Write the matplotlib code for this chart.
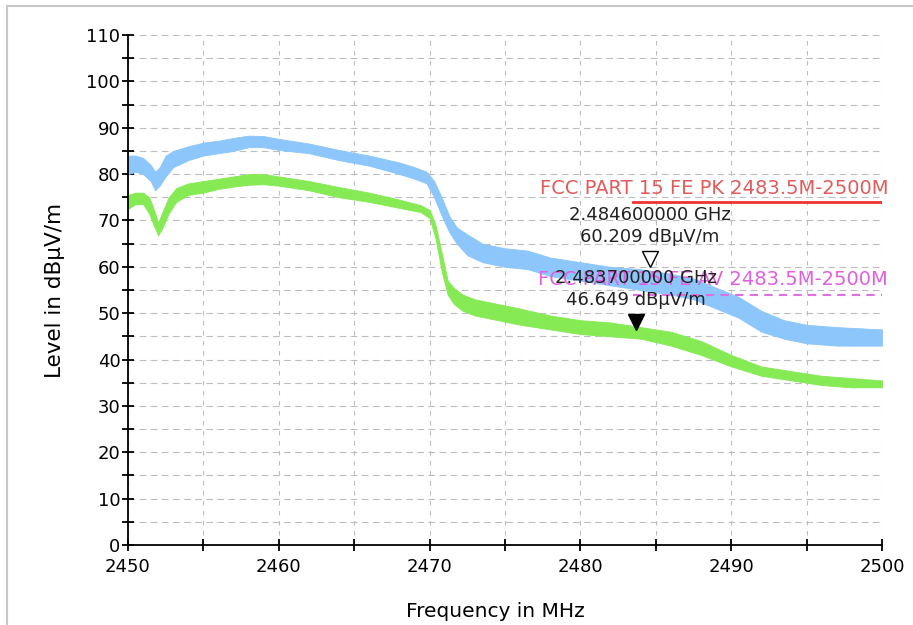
import numpy as np
from matplotlib import pyplot as plt
from matplotlib.transforms import offset_copy
from matplotlib.lines import Line2D

'''Trace data read off the spectrum plot (band = min/max of the noisy trace)'''
pk_freq = [2450, 2450.5, 2451, 2451.5, 2451.8, 2452.1, 2452.5, 2453, 2454, 2455,
           2456, 2457, 2458, 2459, 2460, 2462, 2464, 2466, 2468, 2469, 2469.8,
           2470.3, 2470.8, 2471.3, 2471.8, 2472.5, 2473.5, 2475, 2476.5, 2478,
           2480, 2482, 2484, 2486, 2487.5, 2489, 2490.5, 2492, 2493.5, 2495,
           2497, 2500]
pk_low = [80, 80.5, 80, 78.5, 76.5, 77.5, 79.5, 81.5, 83, 84,
          84.5, 85, 85.8, 85.8, 85.2, 84.5, 83, 81.8, 80, 79, 78,
          75, 71, 67.5, 65, 62.5, 61, 60, 59.5, 58,
          57, 56, 55, 54, 53, 51, 49, 46, 44.5, 43.5,
          43, 43]
pk_high = [84, 84, 83.5, 82, 80.5, 81.5, 84, 85, 86, 86.8,
           87.2, 87.8, 88.3, 88.2, 87.6, 86.6, 85.2, 84, 82.5, 81.5, 80.5,
           78.5, 75, 71, 68.5, 67, 65, 64, 63.5, 62,
           61, 60, 59.5, 58.5, 57.5, 55.5, 53.5, 50.5, 48.5, 47.5,
           47, 46.5]

av_freq = [2450, 2450.5, 2451, 2451.4, 2451.7, 2452, 2452.3, 2452.7, 2453.2, 2454,
           2455, 2456, 2457, 2458, 2459, 2460, 2462, 2464, 2466, 2468, 2469.4,
           2470, 2470.4, 2470.8, 2471.2, 2471.6, 2472.2, 2473, 2474.5, 2476,
           2478, 2480, 2482, 2484, 2486, 2488, 2490, 2492, 2494, 2496, 2498, 2500]
av_low = [72.5, 73.5, 73.5, 71.5, 69, 66.8, 68.5, 71.5, 74, 75.5,
          76, 76.8, 77.3, 77.7, 77.8, 77.5, 76.5, 75, 74, 72.7, 71.8,
          70.5, 66, 59, 54, 52, 50.5, 49.5, 48.5, 47.5,
          46.5, 45.5, 45, 44.5, 43, 41, 38.5, 36.5, 35.5, 34.5, 34, 34]
av_high = [75.5, 76, 76, 75, 72.5, 69.5, 72, 75, 77, 78,
           78.5, 79, 79.5, 80, 80, 79.5, 78.5, 77.2, 76, 74.5, 73.3,
           72.3, 69, 63, 57, 55.5, 54, 53, 52, 51,
           49.5, 48.5, 48, 47, 46, 44, 41, 38.5, 37.5, 36.5, 36, 35.5]

'''Limit lines'''
limit_freq = [2483.5, 2500]
pk_limit = [74, 74]
av_limit = [54, 54]
pk_limit_name = 'FCC PART 15 FE PK 2483.5M-2500M'
av_limit_name = 'FCC PART 15 FE AV 2483.5M-2500M'

'''Markers'''
mk1_freq, mk1_level = 2484.6, 60.209   # open marker, peak trace
mk2_freq, mk2_level = 2483.7, 46.649   # filled marker, average trace

fig = plt.figure(figsize=(9.13, 6.25), dpi=100)
ax = fig.add_axes([128/913, 80/625, 754/913, 510/625])

ax.fill_between(pk_freq, pk_low, pk_high, color='#8cc6fb', lw=0.6, edgecolor='#8cc6fb', zorder=2)
ax.fill_between(av_freq, av_low, av_high, color='#86ea55', lw=0.6, edgecolor='#86ea55', zorder=2)

ax.plot(limit_freq, pk_limit, color='#ee3333', lw=2, zorder=3)
ax.plot(limit_freq, av_limit, color='#e070e0', lw=1.5, ls=(0, (4, 3)), zorder=3)
ax.text(2500.4, 74.8, pk_limit_name, ha='right', va='bottom', color='#e25a5a', fontsize=14, zorder=4)
ax.text(2500.4, 55.2, av_limit_name, ha='right', va='bottom', color='#e060e0', fontsize=14, zorder=4)

# markers: triangle tip sits on the marker level
tri_off = offset_copy(ax.transData, fig=fig, x=0, y=7, units='dots')
ax.plot([mk1_freq], [mk1_level], marker='v', ms=12, mfc='white', mec='black', mew=1,
        transform=tri_off, zorder=5, clip_on=False)
ax.plot([mk2_freq], [mk2_level], marker='v', ms=12, mfc='black', mec='black', mew=1,
        transform=tri_off, zorder=5, clip_on=False)
for f, lv in [(mk1_freq, mk1_level), (mk2_freq, mk2_level)]:
    ax.annotate('%.9f GHz\n%.3f dBµV/m' % (f/1000, lv), xy=(f, lv), xytext=(0, 20),
                textcoords='offset pixels', ha='center', va='bottom', fontsize=13,
                linespacing=1.3, color='#222222', zorder=6)

ax.set_xlim(2450, 2500)
ax.set_ylim(0, 110)
ax.set_xticks(np.arange(2450, 2501, 10))
ax.set_xticks(np.arange(2450, 2501, 5), minor=True)
ax.set_yticks(np.arange(0, 111, 10))
ax.set_yticks(np.arange(0, 111, 5), minor=True)
ax.tick_params(which='both', direction='inout', length=9, width=1.3, labelsize=13)
ax.tick_params(axis='y', pad=1)
ax.tick_params(axis='x', pad=5)

ax.xaxis.grid(True, which='both', color='#bdbdbd', lw=0.8, ls=(0, (4, 5)))
ax.yaxis.grid(True, which='both', color='#bdbdbd', lw=0.8, ls=(0, (6, 4)))
ax.set_axisbelow(True)

for s in ['top', 'right']:
    ax.spines[s].set_visible(False)
for s in ['left', 'bottom']:
    ax.spines[s].set_linewidth(1.3)

ax.set_xlabel('Frequency in MHz', fontsize=14.5)
ax.set_ylabel('Level in dBµV/m', fontsize=15.5)
ax.xaxis.set_label_coords(0.487, -0.112)
ax.yaxis.set_label_coords(-0.083, 0.5)

# light frame of the window
fig.add_artist(Line2D([7/913, 7/913], [0, 1-6/625], transform=fig.transFigure, color='#c8c8c8', lw=1.5))
fig.add_artist(Line2D([7/913, 1], [1-6/625, 1-6/625], transform=fig.transFigure, color='#c8c8c8', lw=1.5))

fig.savefig('out.png', dpi=100, facecolor='white')
